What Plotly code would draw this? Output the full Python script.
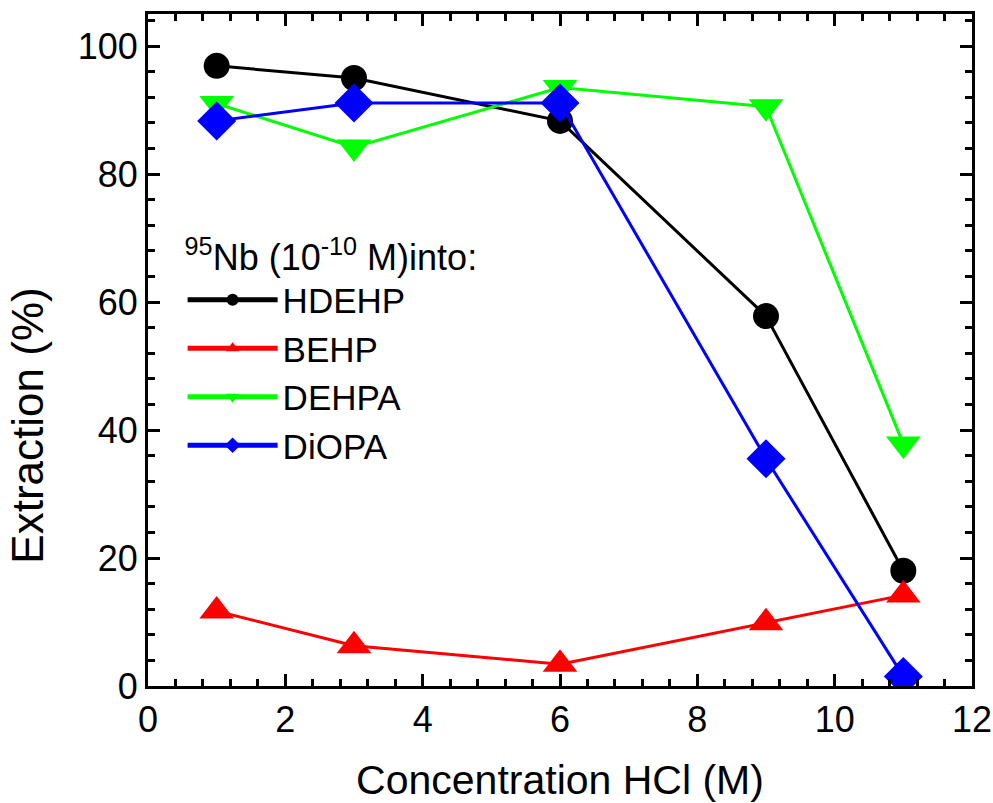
import plotly.graph_objects as go

# HCl concentration (M)
conc = [1, 3, 6, 9, 11]

# Extraction (%) of 95Nb into each extractant
hdehp = [96.9, 95.0, 88.3, 57.8, 18.0]
behp = [11.7, 6.3, 3.4, 9.9, 14.2]
dehpa = [91.0, 84.2, 93.5, 90.5, 37.8]
diopa = [88.3, 91.1, 91.1, 35.5, 1.5]

series = [
    ("HDEHP", hdehp, "#000000", "circle", 26),
    ("BEHP", behp, "#ff0000", "triangle-up", 30),
    ("DEHPA", dehpa, "#00ff00", "triangle-down", 30),
    ("DiOPA", diopa, "#0000ff", "diamond", 30),
]

FONT = "Liberation Sans, Arial"

fig = go.Figure()
for name, vals, color, symbol, size in series:
    fig.add_trace(go.Scatter(
        x=conc, y=vals, name=name, mode="lines+markers",
        line=dict(color=color, width=3),
        marker=dict(symbol=symbol, size=size, color=color, line=dict(width=0)),
    ))

axis_common = dict(
    showline=True, linecolor="black", linewidth=3, mirror="allticks",
    ticks="inside", ticklen=12, tickwidth=3, tickcolor="black",
    showgrid=False, zeroline=False, automargin=False,
    tickfont=dict(family=FONT, size=36, color="black"),
)

fig.update_xaxes(
    range=[0, 12], dtick=2,
    minor=dict(dtick=0.4, ticks="inside", ticklen=7, tickwidth=3, tickcolor="black"),
    title=dict(text="Concentration HCl (M)", standoff=37,
               font=dict(family=FONT, size=41, color="black")),
    **axis_common,
)
fig.update_yaxes(
    range=[0, 105], dtick=20,
    minor=dict(dtick=4, ticks="inside", ticklen=7, tickwidth=3, tickcolor="black"),
    **axis_common,
)

# y-axis title placed as a rotated annotation
fig.add_annotation(
    text="Extraction (%)", textangle=-90,
    xref="paper", yref="paper", x=-0.146, y=0.387,
    xanchor="center", yanchor="middle", showarrow=False,
    font=dict(family=FONT, size=44, color="black"),
)

fig.update_layout(
    width=993, height=803,
    margin=dict(l=148, r=21, t=14, b=117),
    paper_bgcolor="white", plot_bgcolor="white",
    legend=dict(
        x=0.042, y=0.688, xanchor="left", yanchor="top",
        bgcolor="rgba(0,0,0,0)", itemsizing="constant", itemwidth=90,
        font=dict(family=FONT, size=35, color="black"),
        title=dict(text="<sup>95</sup>Nb (10<sup>-10</sup> M)into:",
                   font=dict(family=FONT, size=36, color="black")),
    ),
)

fig.write_html("out.html")
